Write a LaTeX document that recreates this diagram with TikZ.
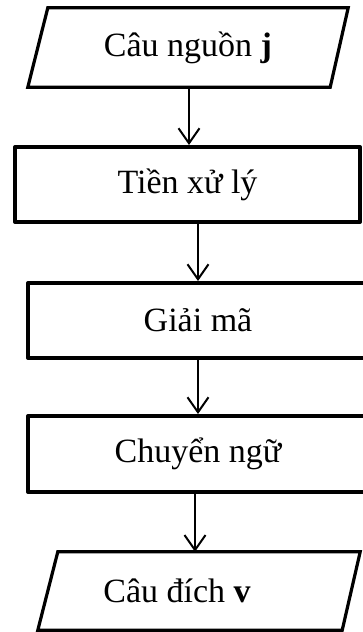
\documentclass[tikz,border=0pt]{standalone}
\usepackage{fontspec}
\setmainfont{Liberation Serif}
\usetikzlibrary{arrows.meta}
\begin{document}
\begin{tikzpicture}[x=1pt,y=-1pt,
  every node/.style={font=\fontsize{34}{40}\selectfont, inner sep=0pt},
  procbox/.style={draw, line width=4pt, rectangle, line join=round},
  iobox/.style={rectangle, draw=none},
  ioline/.style={line width=3.2pt, line join=miter},
  arr/.style={line width=2pt, -{Straight Barb[length=15pt,width=21pt,line width=2pt]}}
]
\useasboundingbox (0,0) rectangle (363,632);
% input parallelogram
\node[iobox, minimum width=320pt, minimum height=79pt] (p1) at (188,47.5) {Câu nguồn \textbf{j}};
\draw[ioline] ([xshift=20pt]p1.north west) -- (p1.north east) -- ([xshift=-18pt]p1.south east) -- (p1.south west) -- cycle;
% process boxes
\node[procbox, minimum width=345pt, minimum height=75pt] (b2) at (187.5,184.5) {Tiền xử lý};
\node[procbox, minimum width=340pt, minimum height=75pt] (b3) at (198,320.5) {Giải mã};
\node[procbox, minimum width=340pt, minimum height=76pt] (b4) at (198,454) {Chuyển ngữ};
% output parallelogram
\node[iobox, minimum width=322pt, minimum height=78pt,
  label={[xshift=-22pt]center:Câu đích \textbf{v}}] (p2) at (199,591) {};
\draw[ioline] ([xshift=20pt]p2.north west) -- (p2.north east) -- ([xshift=-18pt]p2.south east) -- (p2.south west) -- cycle;
% connectors
\draw[arr] ([xshift=1pt]p1.south) -- ([xshift=1pt]p1.south |- b2.north);
\draw[arr] (b3.north |- b2.south) -- (b3.north);
\draw[arr] (b3.south) -- (b4.north);
\draw[arr] ([xshift=-3pt]b4.south) -- ([xshift=-3pt]b4.south |- p2.north);
\end{tikzpicture}
\end{document}
